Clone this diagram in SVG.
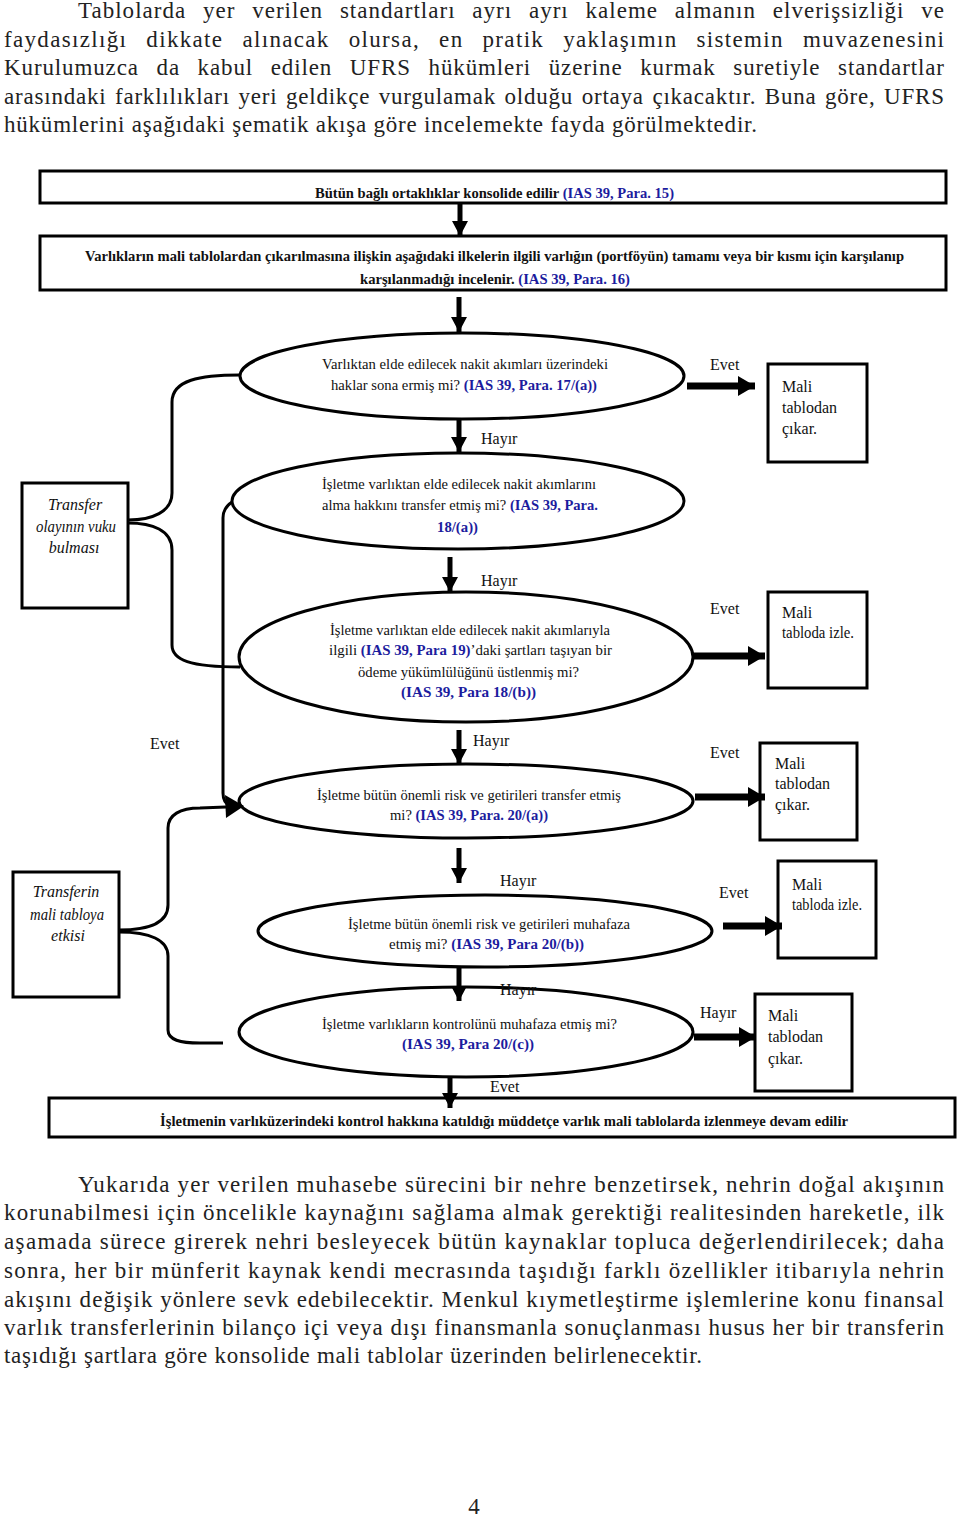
<svg xmlns="http://www.w3.org/2000/svg" width="960" height="1518" viewBox="0 0 960 1518">
<style>
.p{font-family:"Liberation Serif",serif;font-size:23px;fill:#222}
.t{font-family:"Liberation Serif",serif;font-size:15px;fill:#111}
.s{font-size:14px}
.lbl{font-family:"Liberation Serif",serif;font-size:16px;fill:#111}
.it{font-family:"Liberation Serif",serif;font-size:16px;font-style:italic;fill:#111}
.b{font-weight:bold}
.bl{fill:#1c1c9e;font-weight:bold}
.box{fill:#fff;stroke:#000;stroke-width:3}
.ell{fill:#fff;stroke:#000;stroke-width:3}
.conn{fill:none;stroke:#000;stroke-width:3}
.va{stroke:#000;stroke-width:5}
.ha{stroke:#000;stroke-width:7}
</style>
<defs>
<marker id="vh" markerUnits="userSpaceOnUse" markerWidth="16" markerHeight="16" refX="15" refY="8" orient="auto" viewBox="0 0 16 16"><path d="M0,0 L15,8 L0,16 z" fill="#000"/></marker>
<marker id="hh" markerUnits="userSpaceOnUse" markerWidth="18" markerHeight="20" refX="17" refY="10" orient="auto" viewBox="0 0 18 20"><path d="M0,0 L17,10 L0,20 z" fill="#000"/></marker>
</defs>

<g id="paragraph-top" class="p">
<text x="78" y="18" word-spacing="10" textLength="866" lengthAdjust="spacing">Tablolarda yer verilen standartları ayrı ayrı kaleme almanın elverişsizliği ve</text>
<text x="4" y="47" word-spacing="12" textLength="940" lengthAdjust="spacing">faydasızlığı dikkate alınacak olursa, en pratik yaklaşımın sistemin muvazenesini</text>
<text x="4" y="75" word-spacing="11" textLength="940" lengthAdjust="spacing">Kurulumuzca da kabul edilen UFRS hükümleri üzerine kurmak suretiyle standartlar</text>
<text x="4" y="104" word-spacing="2" textLength="940" lengthAdjust="spacing">arasındaki farklılıkları yeri geldikçe vurgulamak olduğu ortaya çıkacaktır. Buna göre, UFRS</text>
<text x="4" y="132" textLength="753" lengthAdjust="spacing">hükümlerini aşağıdaki şematik akışa göre incelemekte fayda görülmektedir.</text>
</g>

<g id="box-1">
<rect class="box" x="40" y="171" width="906" height="32"/>
<text class="t s b" x="315" y="198" textLength="359" lengthAdjust="spacingAndGlyphs">Bütün bağlı ortaklıklar konsolide edilir <tspan class="bl">(IAS 39, Para. 15)</tspan></text>
</g>

<g id="box-2">
<rect class="box" x="40" y="236" width="906" height="54"/>
<text class="t s b" x="85" y="261" textLength="819" lengthAdjust="spacingAndGlyphs">Varlıkların mali tablolardan çıkarılmasına ilişkin aşağıdaki ilkelerin ilgili varlığın (portföyün) tamamı veya bir kısmı için karşılanıp</text>
<text class="t s b" x="360" y="284" textLength="270" lengthAdjust="spacingAndGlyphs">karşılanmadığı incelenir. <tspan class="bl">(IAS 39, Para. 16)</tspan></text>
</g>

<g id="decision-1">
<ellipse class="ell" cx="462" cy="376" rx="222" ry="43"/>
<text class="t" x="322" y="369" textLength="286" lengthAdjust="spacingAndGlyphs">Varlıktan elde edilecek nakit akımları üzerindeki</text>
<text class="t" x="331" y="390" textLength="266" lengthAdjust="spacingAndGlyphs">haklar sona ermiş mi? <tspan class="bl">(IAS 39, Para. 17/(a))</tspan></text>
</g>

<g id="decision-2">
<ellipse class="ell" cx="458" cy="501" rx="226" ry="48"/>
<text class="t" x="322" y="489" textLength="274" lengthAdjust="spacingAndGlyphs">İşletme varlıktan elde edilecek nakit akımlarını</text>
<text class="t" x="322" y="510" textLength="276" lengthAdjust="spacingAndGlyphs">alma hakkını transfer etmiş mi? <tspan class="bl">(IAS 39, Para.</tspan></text>
<text class="t bl" x="437" y="532" textLength="41" lengthAdjust="spacingAndGlyphs">18/(a))</text>
</g>

<g id="decision-3">
<ellipse class="ell" cx="466" cy="657" rx="227" ry="65"/>
<text class="t" x="330" y="635" textLength="280" lengthAdjust="spacingAndGlyphs">İşletme varlıktan elde edilecek nakit akımlarıyla</text>
<text class="t" x="329" y="655" textLength="283" lengthAdjust="spacingAndGlyphs">ilgili <tspan class="bl">(IAS 39, Para 19)</tspan>’daki şartları taşıyan bir</text>
<text class="t" x="358" y="677" textLength="221" lengthAdjust="spacingAndGlyphs">ödeme yükümlülüğünü üstlenmiş mi?</text>
<text class="t bl" x="401" y="697" textLength="135" lengthAdjust="spacingAndGlyphs">(IAS 39, Para  18/(b))</text>
</g>

<g id="decision-4">
<ellipse class="ell" cx="466" cy="801" rx="227" ry="37"/>
<text class="t" x="317" y="800" textLength="304" lengthAdjust="spacingAndGlyphs">İşletme bütün önemli risk ve getirileri transfer etmiş</text>
<text class="t" x="390" y="820" textLength="158" lengthAdjust="spacingAndGlyphs">mi? <tspan class="bl">(IAS 39, Para. 20/(a))</tspan></text>
</g>

<g id="decision-5">
<ellipse class="ell" cx="485" cy="931" rx="227" ry="36"/>
<text class="t" x="348" y="929" textLength="282" lengthAdjust="spacingAndGlyphs">İşletme bütün önemli risk ve getirileri muhafaza</text>
<text class="t" x="389" y="949" textLength="195" lengthAdjust="spacingAndGlyphs">etmiş mi? <tspan class="bl">(IAS 39, Para  20/(b))</tspan></text>
</g>

<g id="decision-6">
<ellipse class="ell" cx="466" cy="1032" rx="227" ry="45"/>
<text class="t" x="322" y="1029" textLength="295" lengthAdjust="spacingAndGlyphs">İşletme varlıkların kontrolünü muhafaza etmiş mi?</text>
<text class="t bl" x="402" y="1049" textLength="132" lengthAdjust="spacingAndGlyphs">(IAS 39, Para  20/(c))</text>
</g>

<g id="box-bottom">
<rect class="box" x="49" y="1098" width="906" height="39"/>
<text class="t s b" x="160" y="1126" textLength="688" lengthAdjust="spacingAndGlyphs">İşletmenin varlıküzerindeki kontrol hakkına katıldığı  müddetçe varlık mali tablolarda izlenmeye devam edilir</text>
</g>

<g id="left-box-1">
<rect class="box" x="22" y="483" width="106" height="125"/>
<text class="it" x="75" y="510" text-anchor="middle">Transfer</text>
<text class="it" x="76" y="532" text-anchor="middle" textLength="80" lengthAdjust="spacingAndGlyphs">olayının vuku</text>
<text class="it" x="74" y="553" text-anchor="middle">bulması</text>
</g>

<g id="left-box-2">
<rect class="box" x="13" y="872" width="106" height="125"/>
<text class="it" x="66" y="897" text-anchor="middle">Transferin</text>
<text class="it" x="67" y="920" text-anchor="middle" textLength="74" lengthAdjust="spacingAndGlyphs">mali tabloya</text>
<text class="it" x="68" y="941" text-anchor="middle">etkisi</text>
</g>

<g id="result-1">
<rect class="box" x="768" y="364" width="99" height="98"/>
<text class="lbl" x="782" y="392">Mali</text>
<text class="lbl" x="782" y="413">tablodan</text>
<text class="lbl" x="782" y="434">çıkar.</text>
</g>

<g id="result-2">
<rect class="box" x="768" y="592" width="99" height="96"/>
<text class="lbl" x="782" y="618">Mali</text>
<text class="lbl" x="782" y="638" textLength="72" lengthAdjust="spacingAndGlyphs">tabloda izle.</text>
</g>

<g id="result-3">
<rect class="box" x="760" y="743" width="97" height="97"/>
<text class="lbl" x="775" y="769">Mali</text>
<text class="lbl" x="775" y="789">tablodan</text>
<text class="lbl" x="775" y="810">çıkar.</text>
</g>

<g id="result-4">
<rect class="box" x="778" y="861" width="98" height="97"/>
<text class="lbl" x="792" y="890">Mali</text>
<text class="lbl" x="792" y="910" textLength="70" lengthAdjust="spacingAndGlyphs">tabloda izle.</text>
</g>

<g id="result-5">
<rect class="box" x="755" y="994" width="97" height="97"/>
<text class="lbl" x="768" y="1021">Mali</text>
<text class="lbl" x="768" y="1042">tablodan</text>
<text class="lbl" x="768" y="1064">çıkar.</text>
</g>

<g id="connectors">
<line class="va" x1="460" y1="203" x2="460" y2="236" marker-end="url(#vh)"/>
<line class="va" x1="459" y1="297" x2="459" y2="332" marker-end="url(#vh)"/>
<line class="va" x1="459" y1="419" x2="459" y2="452" marker-end="url(#vh)"/>
<line class="va" x1="450" y1="557" x2="450" y2="592" marker-end="url(#vh)"/>
<line class="va" x1="459" y1="730" x2="459" y2="764" marker-end="url(#vh)"/>
<line class="va" x1="459" y1="848" x2="459" y2="883" marker-end="url(#vh)"/>
<line class="va" x1="459" y1="968" x2="459" y2="1001" marker-end="url(#vh)"/>
<line class="va" x1="450" y1="1078" x2="450" y2="1108" marker-end="url(#vh)"/>
<line class="ha" x1="687" y1="386" x2="755" y2="386" marker-end="url(#hh)"/>
<line class="ha" x1="694" y1="656" x2="765" y2="656" marker-end="url(#hh)"/>
<line class="ha" x1="695" y1="797" x2="765" y2="797" marker-end="url(#hh)"/>
<line class="ha" x1="723" y1="926" x2="782" y2="926" marker-end="url(#hh)"/>
<line class="ha" x1="694" y1="1037" x2="756" y2="1037" marker-end="url(#hh)"/>
<path class="conn" d="M240,375 C200,375 172,380 172,402 L172,493 C172,512 152,520 128,520"/>
<path class="conn" d="M128,523 C152,523 172,530 172,550 L172,645 C172,660 190,667 240,667"/>
<path class="conn" d="M232,502 C226,506 223,511 223,518 L223,793 C223,800 226,804 230,806"/>
<path class="conn" d="M119,930 C150,930 168,922 168,905 L168,828 C168,815 180,808 200,808 L226,807"/>
<path class="conn" d="M119,932 C150,932 168,940 168,956 L168,1030 C168,1040 180,1043 200,1043 L223,1043"/>
<polygon points="225,795 226,818 244,806" fill="#000"/>
</g>

<g id="labels" class="lbl">
<text x="710" y="370">Evet</text>
<text x="481" y="444">Hayır</text>
<text x="481" y="586">Hayır</text>
<text x="710" y="614">Evet</text>
<text x="150" y="749">Evet</text>
<text x="473" y="746">Hayır</text>
<text x="710" y="758">Evet</text>
<text x="500" y="886">Hayır</text>
<text x="719" y="898">Evet</text>
<text x="500" y="995">Hayır</text>
<text x="700" y="1018">Hayır</text>
<text x="490" y="1092">Evet</text>
</g>

<g id="paragraph-bottom" class="p">
<text x="78" y="1192" textLength="866" lengthAdjust="spacing">Yukarıda yer verilen muhasebe sürecini bir nehre benzetirsek, nehrin doğal akışının</text>
<text x="4" y="1220" textLength="940" lengthAdjust="spacing">korunabilmesi için öncelikle kaynağını sağlama almak gerektiği realitesinden hareketle, ilk</text>
<text x="4" y="1249" textLength="940" lengthAdjust="spacing">aşamada sürece girerek nehri besleyecek bütün kaynaklar topluca değerlendirilecek; daha</text>
<text x="4" y="1278" textLength="940" lengthAdjust="spacing">sonra, her bir münferit kaynak kendi mecrasında taşıdığı farklı özellikler itibarıyla nehrin</text>
<text x="4" y="1307" textLength="940" lengthAdjust="spacing">akışını değişik yönlere sevk edebilecektir. Menkul kıymetleştirme işlemlerine konu finansal</text>
<text x="4" y="1335" textLength="940" lengthAdjust="spacing">varlık transferlerinin bilanço içi veya dışı finansmanla sonuçlanması husus her bir transferin</text>
<text x="4" y="1363" textLength="698" lengthAdjust="spacing">taşıdığı şartlara göre konsolide mali tablolar üzerinden belirlenecektir.</text>
</g>

<text id="page-number" class="p" x="474" y="1514" text-anchor="middle">4</text>
</svg>
